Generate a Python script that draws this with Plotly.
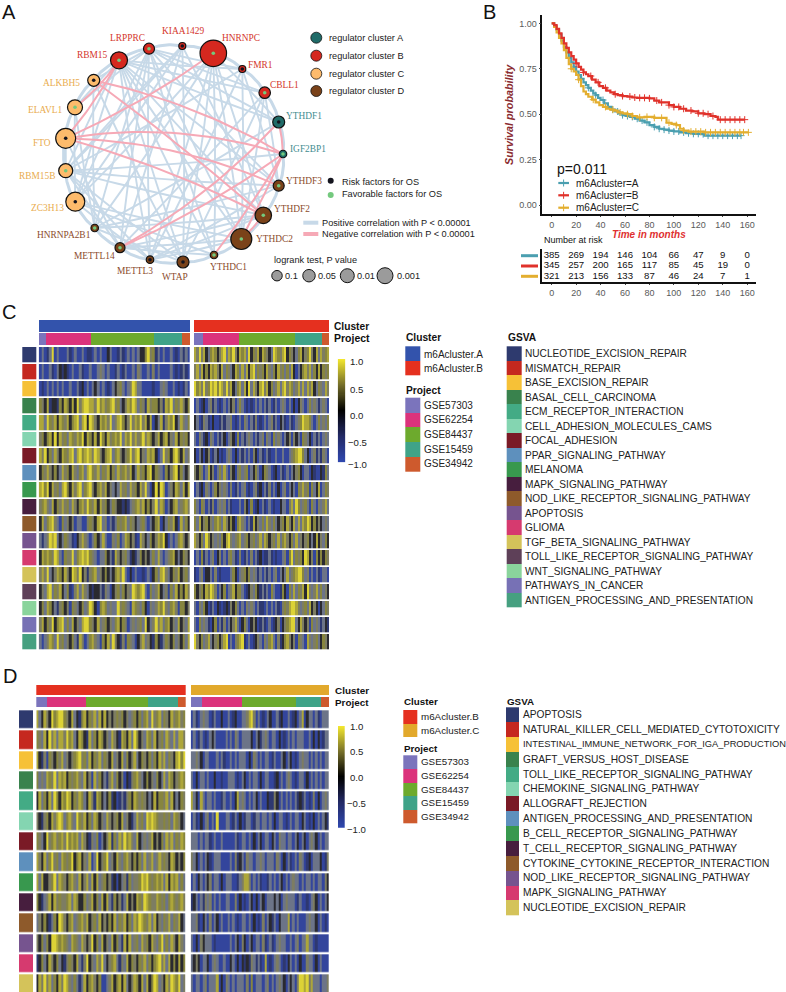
import numpy as np
import plotly.graph_objects as go

W, H = 786, 992
SANS = 'Liberation Sans'
SERIF = 'Liberation Serif'

# ---------- Panel A: network ----------
node_names = ['KIAA1429', 'HNRNPC', 'FMR1', 'CBLL1', 'YTHDF1', 'IGF2BP1', 'YTHDF3', 'YTHDF2', 'YTHDC2', 'YTHDC1', 'WTAP',
              'METTL3', 'METTL14', 'HNRNPA2B1', 'ZC3H13', 'RBM15B', 'FTO', 'ELAVL1', 'ALKBH5', 'RBM15', 'LRPPRC']
node_x = [182.3, 213.3, 242.3, 264.7, 278.7, 283, 278.7, 263.3, 241.3, 214, 183, 150, 120, 94.7, 75.3, 65.7, 65.7, 75, 93.7, 119, 149]
node_y = [46, 53.3, 69, 92.7, 122, 154, 185.7, 215.3, 239, 255, 262, 259.7, 247.7, 228, 201.7, 170.7, 138.3, 107.3, 80.3, 60.3, 48.7]
node_size = [7, 26.5, 7, 11.5, 12, 7.5, 11, 16.5, 21, 7.5, 12, 7.5, 10, 7.5, 19, 14, 20, 15, 12, 17, 11]
node_cluster = ['B', 'B', 'B', 'B', 'A', 'A', 'D', 'D', 'D', 'D', 'D', 'D', 'D', 'D', 'C', 'C', 'C', 'C', 'C', 'B', 'B']
node_risk = [1, 0, 1, 0, 1, 0, 0, 0, 0, 0, 1, 1, 0, 0, 1, 0, 1, 0, 1, 0, 0]
label_x = [182.7, 241.3, 260.3, 284.3, 304, 307.7, 304.3, 292, 274.3, 228.7, 174.7, 134.7, 94.3, 64.3, 47, 37.3, 42, 45.3, 61, 92.7, 127.7]
label_y = [30.7, 38.3, 65, 85, 115.7, 149, 180.7, 209.3, 239, 266.7, 276.7, 271, 256.3, 235, 208.3, 175.7, 142.7, 109.7, 83.3, 55, 37.7]

cluster_fill = {'A': '#1F6B68', 'B': '#D5281F', 'C': '#FDBB6C', 'D': '#7A4219'}
cluster_text = {'A': '#3F8C90', 'B': '#D4352C', 'C': '#E9AB4E', 'D': '#8B4B2C'}

blue_chords = [('KIAA1429', 'METTL14'), ('KIAA1429', 'WTAP'), ('KIAA1429', 'ZC3H13'), ('KIAA1429', 'YTHDF2'), ('KIAA1429', 'RBM15B'),
               ('HNRNPC', 'WTAP'), ('HNRNPC', 'YTHDC1'), ('HNRNPC', 'METTL3'), ('HNRNPC', 'YTHDC2'), ('HNRNPC', 'YTHDF2'),
               ('HNRNPC', 'YTHDF1'), ('HNRNPC', 'HNRNPA2B1'), ('HNRNPC', 'ZC3H13'), ('FMR1', 'YTHDC2'), ('FMR1', 'METTL3'),
               ('FMR1', 'RBM15B'), ('FMR1', 'YTHDF3'), ('FMR1', 'LRPPRC'), ('FMR1', 'RBM15'), ('CBLL1', 'METTL14'), ('CBLL1', 'WTAP'),
               ('CBLL1', 'LRPPRC'), ('CBLL1', 'RBM15'), ('CBLL1', 'YTHDC2'), ('CBLL1', 'YTHDF3'), ('YTHDF1', 'LRPPRC'),
               ('YTHDF1', 'HNRNPA2B1'), ('YTHDF1', 'RBM15'), ('IGF2BP1', 'RBM15B'), ('YTHDF3', 'METTL3'), ('YTHDF3', 'HNRNPA2B1'),
               ('YTHDF3', 'RBM15'), ('YTHDF3', 'LRPPRC'), ('YTHDF3', 'RBM15B'), ('YTHDF2', 'HNRNPA2B1'), ('YTHDF2', 'METTL14'),
               ('YTHDF2', 'RBM15'), ('YTHDF2', 'METTL3'), ('YTHDF2', 'RBM15B'), ('YTHDC2', 'METTL14'), ('YTHDC2', 'METTL3'),
               ('YTHDC2', 'LRPPRC'), ('YTHDC2', 'RBM15'), ('YTHDC2', 'ZC3H13'), ('YTHDC1', 'LRPPRC'), ('YTHDC1', 'RBM15'),
               ('YTHDC1', 'ZC3H13'), ('YTHDC1', 'METTL14'), ('WTAP', 'RBM15'), ('WTAP', 'ALKBH5'), ('WTAP', 'RBM15B'),
               ('WTAP', 'HNRNPA2B1'), ('METTL3', 'LRPPRC'), ('METTL3', 'ZC3H13'), ('METTL3', 'RBM15'), ('METTL3', 'RBM15B'),
               ('METTL14', 'LRPPRC'), ('METTL14', 'FTO'), ('METTL14', 'RBM15B'), ('HNRNPA2B1', 'LRPPRC'), ('HNRNPA2B1', 'ELAVL1'),
               ('HNRNPA2B1', 'ALKBH5'), ('ZC3H13', 'LRPPRC'), ('ZC3H13', 'ELAVL1'), ('ZC3H13', 'RBM15'), ('RBM15B', 'RBM15'),
               ('RBM15B', 'KIAA1429'), ('ELAVL1', 'LRPPRC'), ('ALKBH5', 'LRPPRC'), ('ELAVL1', 'RBM15'), ('FTO', 'RBM15B')]
pink_edges = [('FTO', 'IGF2BP1', .12), ('FTO', 'YTHDF3', .10), ('FTO', 'YTHDF2', .05), ('ALKBH5', 'IGF2BP1', .08), ('ALKBH5', 'YTHDF2', .02),
              ('HNRNPC', 'FTO', .05), ('RBM15', 'FTO', .05), ('RBM15', 'ELAVL1', .08), ('YTHDF1', 'METTL14', .08), ('IGF2BP1', 'METTL14', .05),
              ('IGF2BP1', 'YTHDC1', .03), ('IGF2BP1', 'YTHDC2', .02), ('YTHDF1', 'IGF2BP1', .05), ('YTHDF2', 'YTHDC2', .05)]

# ---------- Panel B: survival ----------
tA = [0, 2, 4, 6, 8, 10, 12, 14, 16, 18, 20, 22, 24, 26, 28, 30, 32, 34, 36, 38, 40, 43, 46, 49, 52, 55, 58, 61, 64, 68, 72, 76, 80, 84, 88, 92, 96, 100, 105, 110, 116, 122, 125, 155]
sA = [1, .985, .965, .94, .905, .87, .84, .81, .785, .76, .735, .715, .695, .675, .66, .645, .63, .615, .605, .59, .578, .56, .54, .525, .515, .505, .495, .49, .485, .475, .465, .455, .44, .43, .42, .415, .41, .405, .40, .395, .392, .39, .382, .382]
tB = [0, 2, 4, 6, 8, 10, 12, 14, 16, 18, 20, 22, 24, 26, 28, 30, 33, 36, 39, 42, 45, 48, 51, 54, 58, 62, 66, 70, 75, 80, 84, 88, 92, 96, 100, 105, 110, 115, 120, 125, 130, 134, 136, 158]
sB = [1, .99, .97, .945, .92, .89, .865, .84, .82, .80, .78, .76, .745, .73, .72, .71, .69, .675, .655, .645, .63, .62, .61, .605, .60, .597, .592, .59, .59, .587, .575, .565, .565, .55, .54, .53, .52, .515, .505, .50, .49, .485, .47, .47]
tC = [0, 2, 4, 6, 8, 10, 12, 14, 16, 18, 20, 22, 24, 26, 28, 30, 33, 36, 39, 42, 45, 48, 51, 54, 58, 62, 66, 70, 76, 84, 92, 94, 98, 102, 105, 108, 112, 125, 161]
sC = [1, .98, .95, .92, .89, .853, .81, .775, .75, .735, .716, .69, .655, .625, .61, .596, .58, .565, .55, .54, .53, .525, .52, .51, .505, .50, .49, .483, .485, .48, .48, .453, .447, .44, .42, .41, .404, .40, .40]
censorA = [18, 24, 30, 36, 42, 50, 54, 58, 62, 66, 70, 74, 78, 84, 88, 92, 96, 100, 104, 108, 112, 116, 120, 124, 128, 132, 136, 140, 144, 148, 152, 155]
censorB = [20, 26, 32, 38, 44, 52, 58, 64, 68, 72, 76, 80, 86, 90, 96, 100, 104, 108, 114, 120, 124, 128, 132, 138, 142, 146, 150, 154, 158]
censorC = [16, 22, 34, 44, 50, 56, 62, 66, 72, 78, 84, 90, 96, 102, 108, 114, 118, 122, 126, 130, 134, 138, 142, 146, 150, 154, 157, 161]
risk_times = [0, 20, 40, 60, 80, 100, 120, 140, 160]
riskA = [385, 269, 194, 146, 104, 66, 47, 9, 0]
riskB = [345, 257, 200, 165, 117, 85, 45, 19, 0]
riskC = [321, 213, 156, 133, 87, 46, 24, 7, 1]
surv_teal, surv_red, surv_gold = '#4B9FB0', '#E0322B', '#E3AE2F'

# ---------- Panels C and D: heatmaps ----------
# Stripe levels read by eye per row: 0 blue, 1 navy, 2 black, 3 slate, 4 grey-olive, 5 olive, 6 mustard, 7 yellow
c_left = [
    '0301370300 0310300301 1030300230 0131030303 2257451303 0030103130',
    '0300310321 2103003100 3003430300 1301300304 3003040300 0030101310',
    '0103030303 0030031203 0323030103 2453034763 3000010034 3003010130',
    '5426122152 6526274677 6647564567 4532465763 5416455241 6573546425',
    '6637546265 4625673672 7642656473 4675247465 7462602361 4657236435',
    '4525627264 5365465726 5262752645 6573657464 5746524625 6243625452',
    '6472536426 5467367567 6476425673 5642457467 2436562037 4526752634',
    '2546425236 4526435636 7546354625 3645646236 4526725430 5246725324',
    '6757264536 7526467356 7425646243 2364536452 6473027276 0342653626',
    '4564362546 4536425647 5462645235 4221213456 4625247365 0325634564',
    '2635674305 3424033004 5426734031 3545635423 4530325602 3546206352',
    '3134767323 5431024643 0352363004 3503652410 6423524657 2030356424',
    '2656547630 5447356767 5430335231 6424531213 5242353630 3456232542',
    '4647324652 6427647241 4563425232 5647302030 0103025367 4325462453',
    '2436735462 3510463643 2122314302 4535243765 6730534623 4053625264',
    '2536523145 2405432534 7620565343 3745430654 3520434657 4356405524',
    '4625472567 3536243677 5426345243 5625403434 5372347463 5624362436',
    '3034653745 3425316403 5643052637 4214054302 4634215213 5425342536']
c_right = [
    '6474623565 2467365742 6563725462 6542376546 7254235624 5742636456',
    '4636252656 4263543265 3636267354 5264352645 3536203256 4635262545',
    '7564745767 5764746235 6362736426 7462534636 7465346363 6462354364',
    '0301203413 0103032403 5301010303 0313013034 3030202430 3534313430',
    '2301431020 0131334010 3043031401 0303413023 1031034576 6530353435',
    '3043120430 3132034205 0313430313 4043053430 3240423054 3203130343',
    '2032024013 2010343020 3130304203 1031003003 0034567753 2034131430',
    '4254036240 3536304204 5345032530 2543012031 0303245203 3021002153',
    '0312043035 2434304013 0340103412 0314030203 4032305464 5053260354',
    '5305403140 3434031000 3042050120 3103010023 3046375345 3053043463',
    '5362452435 6536425205 6430316243 5364353245 2642636365 7625242343',
    '6425375243 4352674345 6345245346 3652453635 6425363424 5232624352',
    '0305130340 2403045310 4013040312 0113101003 4057354527 6240525254',
    '1034022304 0100003520 3452534313 0313034032 3634567753 4030310330',
    '5245265764 0325034625 5301243521 3130530015 2053635462 7434635342',
    '3043520130 2101214253 0304343031 1030303104 5467764345 3624202354',
    '3053431025 0314032463 0253024201 3103012402 4567732642 4053431321',
    '7425346324 5246703045 6710301243 0435630412 5642405430 6434532542']
d_left = [
    '6326427567 7542632156 2546362624 2454524345 2535637456 3542645645',
    '5436274636 6475632652 1635265243 6421652637 5243653624 5364363664',
    '6214054254 6342456745 3625463542 6342635246 3254253526 4635426757',
    '5343654736 5625456436 2406352314 6352402145 6432524352 3636524565',
    '2635263752 6576254653 2641652325 1201314526 5454232625 5463623254',
    '4214526467 6356437546 2536524364 2452634213 6453767654 4545365423',
    '5432745645 6475656364 2143503246 1536475643 6234346242 5364635465',
    '6426357453 6545725624 3603724573 4264356425 2536346346 4542652425',
    '6362245736 5425643624 6362634524 1202341534 4576754565 6362656353',
    '5213462645 4456365225 3462536263 1524136242 6547654465 4535654564',
    '3425213527 6425634564 6245362425 2635462536 5765463624 3546354623',
    '4253527765 6543654364 2472536243 6253162634 5364526435 7353642643',
    '1253264253 2145426314 7243647324 5631436254 2546352567 4636252625',
    '2647463526 4764353136 2564250034 6256263246 5263625763 4264765734']
d_right = [
    '0310343301 3002003012 0033467403 0103200312 0030120360 2330310333',
    '0301301032 3000030304 3033332032 1343033020 1030303330 0302020133',
    '3343203300 0303100303 0333020430 3033013003 2032010343 3030303033',
    '3020330300 2001003330 1032030330 2033001203 0343010330 2030303033',
    '6320630330 3001300302 6343030320 3002114203 0303031213 0104020343',
    '0310203403 0700033013 0201330133 0330302033 0103033023 0102030321',
    '3330303310 3003000003 1033030203 2033023043 3033032032 0343203033',
    '4320303210 3330000304 1230433033 4303330430 2031030430 1203332014',
    '0302303240 3302033300 1346640303 1001303032 0303433030 3303033042',
    '1230314340 3030033004 0201032020 3203332320 3433301300 1034203032',
    '3341023040 3203003030 1033030201 0403213023 3360303000 3433203010',
    '3020423330 1000000303 2042032033 0410310343 3003034033 6330100000',
    '3242033203 4300300230 2021214313 1060103430 1023030200 4330203000',
    '3033034033 3602043030 3330405033 3034030343 2032304776 7463330334']
level_colors = ['#33459C', '#2E3870', '#2A2A30', '#6C7488', '#7D7D62', '#87853F', '#ADA63A', '#DCD236']

project_names = ['GSE57303', 'GSE62254', 'GSE84437', 'GSE15459', 'GSE34942']
project_colors = ['#7B74BC', '#DB337C', '#6DAA2D', '#3FA388', '#CE5A2D']
# relative width of each project inside every block
proj_c_left = [23, 134, 190, 82, 25]
proj_c_right = [27, 108, 168, 82, 20]
proj_d_left = [31, 118, 187, 90, 22]
proj_d_right = [34, 120, 162, 76, 23]

gsva_colors = ['#2E3A6E', '#C5281F', '#F6C137', '#39824D', '#43AB85', '#84D5B1', '#7A1A26', '#5E90BD', '#38984E',
               '#471E3E', '#8E5A2B', '#76548F', '#D63A6F', '#D4C35A', '#5E4058', '#8AD49C', '#7771B5', '#46A080']
gsva_c = ['NUCLEOTIDE_EXCISION_REPAIR', 'MISMATCH_REPAIR', 'BASE_EXCISION_REPAIR', 'BASAL_CELL_CARCINOMA', 'ECM_RECEPTOR_INTERACTION',
          'CELL_ADHESION_MOLECULES_CAMS', 'FOCAL_ADHESION', 'PPAR_SIGNALING_PATHWAY', 'MELANOMA', 'MAPK_SIGNALING_PATHWAY',
          'NOD_LIKE_RECEPTOR_SIGNALING_PATHWAY', 'APOPTOSIS', 'GLIOMA', 'TGF_BETA_SIGNALING_PATHWAY',
          'TOLL_LIKE_RECEPTOR_SIGNALING_PATHWAY', 'WNT_SIGNALING_PATHWAY', 'PATHWAYS_IN_CANCER', 'ANTIGEN_PROCESSING_AND_PRESENTATION']
gsva_d = ['APOPTOSIS', 'NATURAL_KILLER_CELL_MEDIATED_CYTOTOXICITY', 'INTESTINAL_IMMUNE_NETWORK_FOR_IGA_PRODUCTION', 'GRAFT_VERSUS_HOST_DISEASE',
          'TOLL_LIKE_RECEPTOR_SIGNALING_PATHWAY', 'CHEMOKINE_SIGNALING_PATHWAY', 'ALLOGRAFT_REJECTION', 'ANTIGEN_PROCESSING_AND_PRESENTATION',
          'B_CELL_RECEPTOR_SIGNALING_PATHWAY', 'T_CELL_RECEPTOR_SIGNALING_PATHWAY', 'CYTOKINE_CYTOKINE_RECEPTOR_INTERACTION',
          'NOD_LIKE_RECEPTOR_SIGNALING_PATHWAY', 'MAPK_SIGNALING_PATHWAY', 'NUCLEOTIDE_EXCISION_REPAIR']
col_blue, col_red, col_gold = '#3353AC', '#E5301F', '#E2A92C'
bar_labels = ['\u22121.0', '\u22120.5', '0.0', '0.5', '1.0']

fig = go.Figure()
annotations = []
layout_axes = {}
axis_no = 1


def txt(x, y, s, size=9, color='#1a1a1a', family=SANS, anchor='left', bold=False, italic=False):
    if bold:
        s = '<b>' + s + '</b>'
    if italic:
        s = '<i>' + s + '</i>'
    annotations.append(dict(x=x, y=y, xref='x', yref='y', text=s, showarrow=False, xanchor=anchor, yanchor='middle',
                            font=dict(size=size, color=color, family=family), borderpad=0))


def new_axes(x0, x1, y0, y1):
    # y0, y1 in pixels from the top
    global axis_no
    axis_no += 1
    n = axis_no
    layout_axes[f'xaxis{n}'] = dict(domain=[x0 / W, x1 / W], anchor=f'y{n}', visible=False, range=[0, 60])
    layout_axes[f'yaxis{n}'] = dict(domain=[1 - y1 / H, 1 - y0 / H], anchor=f'x{n}', visible=False)
    return n


def steps(colors):
    n = len(colors)
    scale = []
    for i, c in enumerate(colors):
        scale += [[i / n, c], [(i + 1) / n, c]]
    return scale


def swatches(x0, x1, y0, pitch, colors, gap=0):
    # column of colour blocks on the page axis
    n = len(colors)
    fig.add_trace(go.Heatmap(z=[[i] for i in range(n)], x=[x0, x1], y=[y0 + i * pitch for i in range(n + 1)],
                             zmin=-.5, zmax=n - .5, colorscale=steps(colors), showscale=False, ygap=gap, hoverinfo='skip'))


def curve(a, b, c, samples=24):
    x0, y0, x1, y1 = node_x[a], node_y[a], node_x[b], node_y[b]
    dx, dy = x1 - x0, y1 - y0
    cx, cy = (x0 + x1) / 2 + c * dy, (y0 + y1) / 2 - c * dx
    t = np.linspace(0, 1, samples)
    return list((1 - t) ** 2 * x0 + 2 * t * (1 - t) * cx + t ** 2 * x1) + [None], list((1 - t) ** 2 * y0 + 2 * t * (1 - t) * cy + t ** 2 * y1) + [None]


def edge_trace(edges, color, width):
    xs, ys = [], []
    for e in edges:
        cx, cy = curve(node_names.index(e[0]), node_names.index(e[1]), e[2] if len(e) > 2 else 0.015)
        xs += cx
        ys += cy
    fig.add_trace(go.Scatter(x=xs, y=ys, mode='lines', line=dict(color=color, width=width), hoverinfo='skip', showlegend=False))


# network
edge_trace(blue_chords, '#C7D9E8', 1.9)
rim = [(node_names[i], node_names[(i + 1) % 21], .14) for i in range(21)]
edge_trace(rim, '#C7D9E8', 3)
edge_trace(pink_edges, '#F6A9B6', 2)
fig.add_trace(go.Scatter(x=node_x, y=node_y, mode='markers', showlegend=False, hoverinfo='skip',
                         marker=dict(size=node_size, opacity=1, color=[cluster_fill[c] for c in node_cluster], line=dict(color='#111', width=1.2))))
fig.add_trace(go.Scatter(x=node_x, y=node_y, mode='markers', showlegend=False, hoverinfo='skip',
                         marker=dict(size=3.6, opacity=1, color=['#14141E' if r else '#74C97E' for r in node_risk])))
for i, name in enumerate(node_names):
    txt(label_x[i], label_y[i], name, 9.4, cluster_text[node_cluster[i]], SERIF, 'center')

# legends of panel A
legend_y = [37.7, 55.7, 73.7, 91]
fig.add_trace(go.Scatter(x=[316.3] * 4, y=legend_y, mode='markers', showlegend=False, hoverinfo='skip',
                         marker=dict(size=11, opacity=1, color=[cluster_fill[k] for k in 'ABCD'], line=dict(color='#111', width=.8))))
for yy, k in zip(legend_y, 'ABCD'):
    txt(327.7, yy, 'regulator cluster ' + k, 9.2)
fig.add_trace(go.Scatter(x=[330.7, 330.7], y=[180.7, 195], mode='markers', showlegend=False, hoverinfo='skip',
                         marker=dict(size=6, opacity=1, color=['#14141E', '#74C97E'])))
txt(341, 182, 'Risk factors for OS', 9.2)
txt(341, 194, 'Favorable factors for OS', 9.2)
fig.add_trace(go.Scatter(x=[303.3, 318.3], y=[222.7, 222.7], mode='lines', line=dict(color='#C7D9E8', width=4), showlegend=False, hoverinfo='skip'))
fig.add_trace(go.Scatter(x=[303.3, 318.3], y=[234, 234], mode='lines', line=dict(color='#F6A9B6', width=4), showlegend=False, hoverinfo='skip'))
txt(321, 222.7, 'Positive correlation with P &lt; 0.00001', 9.2)
txt(321, 234, 'Negative correlation with P &lt; 0.00001', 9.2)
txt(273.3, 260, 'logrank test, P value', 9.2)
fig.add_trace(go.Scatter(x=[277, 309, 347.3, 385], y=[275.7] * 4, mode='markers', showlegend=False, hoverinfo='skip',
                         marker=dict(size=[10.5, 12.5, 14, 16], opacity=1, color='#9B9B9B', line=dict(color='#111', width=1))))
for xx, s in zip([283.7, 316.7, 355.7, 395.7], ['0.1', '0.05', '0.01', '0.001']):
    txt(xx, 275.7, s, 9.2)

# panel letters
for xx, yy, s in [(1, 12, 'A'), (482, 12, 'B'), (1, 312, 'C'), (2, 676, 'D')]:
    txt(xx, yy, s, 20, '#111')

# survival curves
n = new_axes(542.3, 755.7, 15, 214.3)
sx, sy = f'x{n}', f'y{n}'
tick_font = dict(size=9, color='#595959', family=SANS)
layout_axes[f'xaxis{n}'] = dict(domain=[542.3 / W, 755.7 / W], anchor=sy, range=[-7.7, 167], tickvals=risk_times, ticks='outside', ticklen=1,
                                showline=True, linecolor='#111', linewidth=1.5, showgrid=False, zeroline=False, tickfont=tick_font)
layout_axes[f'yaxis{n}'] = dict(domain=[1 - 214.3 / H, 1 - 15 / H], anchor=sx, range=[-.051, 1.046], tickvals=[0, .25, .5, .75, 1],
                                ticktext=['0.00', '0.25', '0.50', '0.75', '1.00'], ticks='outside', ticklen=2,
                                showline=True, linecolor='#111', linewidth=1.5, showgrid=False, zeroline=False, tickfont=tick_font)
for tt, ss, cen, color in [(tA, sA, censorA, surv_teal), (tC, sC, censorC, surv_gold), (tB, sB, censorB, surv_red)]:
    fig.add_trace(go.Scatter(x=tt, y=ss, mode='lines', line=dict(color=color, width=2.2, shape='hv'), xaxis=sx, yaxis=sy, showlegend=False, hoverinfo='skip'))
    at = [ss[int(np.searchsorted(tt, c, side='right')) - 1] for c in cen]
    fig.add_trace(go.Scatter(x=cen, y=at, mode='markers', marker=dict(symbol='cross-thin', size=5, line=dict(color=color, width=1)),
                             xaxis=sx, yaxis=sy, showlegend=False, hoverinfo='skip'))
txt(556, 169.3, 'p=0.011', 14, '#111')
for yy, color, s in [(183, surv_teal, 'm6Acluster=A'), (195.3, surv_red, 'm6Acluster=B'), (207.7, surv_gold, 'm6Acluster=C')]:
    fig.add_trace(go.Scatter(x=[558.3, 569], y=[yy, yy], mode='lines', line=dict(color=color, width=2.2), showlegend=False, hoverinfo='skip'))
    fig.add_trace(go.Scatter(x=[563.6], y=[yy], mode='markers', marker=dict(symbol='cross-thin', size=5, line=dict(color=color, width=1)), showlegend=False, hoverinfo='skip'))
    txt(574.7, yy, s, 10, '#222')
annotations.append(dict(x=509, y=115, xref='x', yref='y', text='<b><i>Survival probability</i></b>', textangle=-90, showarrow=False,
                        font=dict(size=10.8, color='#8A2B30', family=SANS)))
txt(649, 234, 'Time in months', 10, '#E03030', SANS, 'center', True, True)
txt(542.7, 240, 'Number at risk', 9, '#111')

# risk table
n = new_axes(542.3, 755.7, 249, 282.3)
rx, ry = f'x{n}', f'y{n}'
layout_axes[f'xaxis{n}'] = dict(domain=[542.3 / W, 755.7 / W], anchor=ry, range=[-7.7, 167], tickvals=risk_times, ticks='outside', ticklen=1,
                                showline=True, linecolor='#111', linewidth=1.5, showgrid=False, zeroline=False, tickfont=tick_font)
layout_axes[f'yaxis{n}'] = dict(domain=[1 - 282.3 / H, 1 - 249 / H], anchor=rx, range=[2.58, -.65], showticklabels=False, ticks='',
                                showline=True, linecolor='#111', linewidth=1.5, showgrid=False, zeroline=False)
for row, (vals, color) in enumerate([(riskA, surv_teal), (riskB, surv_red), (riskC, surv_gold)]):
    fig.add_trace(go.Scatter(x=risk_times, y=[row] * 9, mode='text', text=[str(v) for v in vals], textposition='middle center',
                             textfont=dict(size=9.6, color='#111', family=SANS), xaxis=rx, yaxis=ry, showlegend=False, hoverinfo='skip'))
    fig.add_trace(go.Scatter(x=[521, 538], y=[255.7 + row * 10.3] * 2, mode='lines', line=dict(color=color, width=3), showlegend=False, hoverinfo='skip'))


def block(rows, projects, cluster_color, x0, x1, bar_top, bar_bottom, row_top, pitch, gap):
    z = [[int(ch) for ch in r.replace(' ', '')] for r in rows]
    # the last row of panel D runs off the page, so the axis stops at the page edge
    bottom = min(H, row_top + pitch * len(rows))
    m = new_axes(x0, x1, row_top, bottom)
    layout_axes[f'yaxis{m}']['range'] = [(bottom - row_top) / pitch, 0]
    fig.add_trace(go.Heatmap(z=z, x=list(range(61)), y=list(range(len(rows) + 1)), zmin=-.5, zmax=7.5, colorscale=steps(level_colors), showscale=False,
                             ygap=gap, xaxis=f'x{m}', yaxis=f'y{m}', hoverinfo='skip'))
    b = new_axes(x0, x1, bar_top, bar_bottom)
    layout_axes[f'yaxis{b}'].update(type='category', categoryorder='array', categoryarray=['Project', 'Cluster'])
    fig.add_trace(go.Bar(x=[60], y=['Cluster'], orientation='h', marker=dict(color=cluster_color, line_width=0), xaxis=f'x{b}', yaxis=f'y{b}', showlegend=False, hoverinfo='skip'))
    scale = 60 / sum(projects)
    for w, color in zip(projects, project_colors):
        fig.add_trace(go.Bar(x=[w * scale], y=['Project'], orientation='h', marker=dict(color=color, line_width=0), xaxis=f'x{b}', yaxis=f'y{b}', showlegend=False, hoverinfo='skip'))


def ramp(x0, x1, y0, y1, label_ys):
    m = new_axes(x0, x1, y0, y1)
    layout_axes[f'xaxis{m}']['range'] = [0, 1]
    layout_axes[f'yaxis{m}']['range'] = [-1, 1]
    levels = [round(-1 + i * .02, 2) for i in range(101)]
    fig.add_trace(go.Heatmap(z=[[v] for v in levels], x=[0, 1], y=levels, zmin=-1, zmax=1, xaxis=f'x{m}', yaxis=f'y{m}', showscale=False, hoverinfo='skip',
                             colorscale=[[0, '#2F47AE'], [.25, '#232A66'], [.5, '#000000'], [.75, '#77702A'], [1, '#F2E62E']]))
    for yy, s in zip(label_ys, bar_labels):
        txt(x1 + 4 if s[0] != '\u2212' else x1 + 1.5, yy, s, 9.6, '#222')


# panel C
block(c_left, proj_c_left, col_blue, 38.7, 190, 319, 345.7, 347, 16.9, 1.7)
block(c_right, proj_c_right, col_red, 194, 329, 319, 345.7, 347, 16.9, 1.7)
swatches(22.3, 36, 347, 16.9, gsva_colors, 1.7)
ramp(337.7, 345.2, 359, 462.3, [464, 442, 415, 389, 361])
txt(333, 326, 'Cluster', 10.2, '#111', bold=True)
txt(333, 338, 'Project', 10.5, '#111', bold=True)
txt(405.3, 337.7, 'Cluster', 10.2, '#111', bold=True)
swatches(405.3, 420, 346.3, 14.7, [col_blue, col_red])
txt(422.7, 354, 'm6Acluster.A', 10, '#222')
txt(422.7, 368.7, 'm6Acluster.B', 10, '#222')
txt(405.3, 390.7, 'Project', 10.2, '#111', bold=True)
swatches(405.3, 420, 397.7, 14.72, project_colors)
for i, s in enumerate(project_names):
    txt(422.7, 405 + i * 14.7, s, 10, '#222')
txt(507, 337.7, 'GSVA', 10.2, '#111', bold=True)
swatches(506.7, 521.7, 346.3, 14.5, gsva_colors)
for i, s in enumerate(gsva_c):
    txt(524.3, 353.6 + i * 14.5, s, 10.15, '#222')

# panel D
block(d_left, proj_d_left, col_red, 36.3, 185.7, 684, 707.7, 709.3, 20.33, 2.2)
block(d_right, proj_d_right, col_gold, 190.7, 329, 684, 707.7, 709.3, 20.33, 2.2)
swatches(19, 33.3, 709.3, 20.33, gsva_colors[:14], 2.2)
ramp(338, 344.7, 726, 827.7, [829, 803, 777, 751, 726])
txt(333.7, 690, 'Cluster', 9.9, '#111', bold=True)
txt(333.7, 702.7, 'Project', 9.9, '#111', bold=True)
txt(403.3, 701.7, 'Cluster', 9.8, '#111', bold=True)
swatches(403.3, 417.3, 710, 13.65, [col_red, col_gold])
txt(420, 716.7, 'm6Acluster.B', 9.8, '#222')
txt(420, 730.7, 'm6Acluster.C', 9.8, '#222')
txt(403.3, 748.3, 'Project', 9.8, '#111', bold=True)
swatches(403.3, 417.3, 755.3, 13.6, project_colors)
for i, s in enumerate(project_names):
    txt(420, 761.8 + i * 13.7, s, 9.8, '#222')
txt(506, 701.7, 'GSVA', 9.8, '#111', bold=True)
swatches(506, 519.3, 707.3, 14.83, gsva_colors[:14])
for i, s in enumerate(gsva_d):
    # the longest name is set smaller so that it stays on the page
    txt(522.3, 714.7 + i * 14.83, s, 9.3 if s.startswith('INTESTINAL') else 10.2, '#222')

fig.update_layout(width=W, height=H, autosize=False, margin=dict(l=0, r=0, t=0, b=0, pad=0), paper_bgcolor='white', plot_bgcolor='rgba(0,0,0,0)',
                  barmode='stack', bargap=.12, showlegend=False, font=dict(family=SANS),
                  xaxis=dict(domain=[0, 1], range=[0, W], visible=False, fixedrange=True),
                  yaxis=dict(domain=[0, 1], range=[H, 0], visible=False, fixedrange=True),
                  annotations=annotations, **layout_axes)

fig.write_html('out.html', config={'displayModeBar': False},
               post_script="document.body.style.margin='0';document.body.style.overflow='hidden';")
